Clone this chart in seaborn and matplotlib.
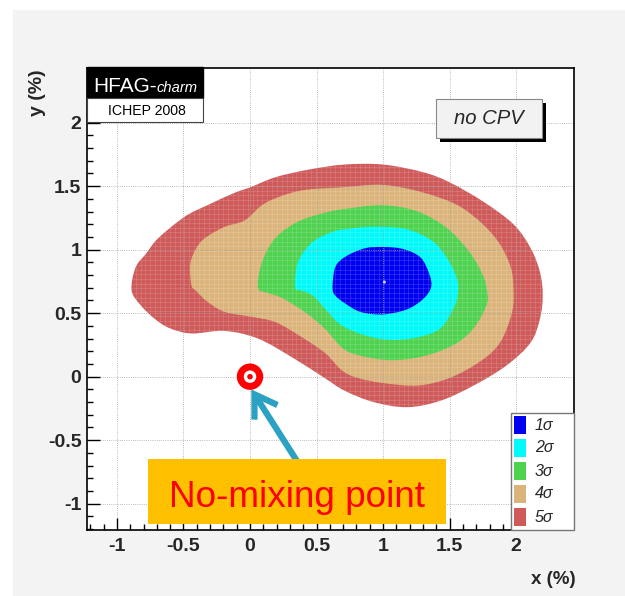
import numpy as np
import pandas as pd
import matplotlib
matplotlib.use("Agg")
import matplotlib.pyplot as plt
from matplotlib.patches import Rectangle, PathPatch, FancyArrowPatch, ArrowStyle
from matplotlib.path import Path
from matplotlib.ticker import MultipleLocator, FuncFormatter
from matplotlib.colors import LinearSegmentedColormap
import seaborn as sns

sns.set_style("white")
plt.rcParams["font.family"] = ["Liberation Sans", "DejaVu Sans"]
plt.rcParams["axes.unicode_minus"] = False

# ---- confidence-region boundaries in the (x, y) plane, values in % ----
sigma5_x = [-0.89, -0.86, -0.78, -0.69, -0.49, -0.32, -0.11, 0.00, 0.19, 0.44, 0.71, 1.00,
            1.30, 1.50, 1.75, 1.98, 2.11, 2.18, 2.20, 2.18, 2.11, 1.93, 1.68, 1.43, 1.18,
            0.93, 0.71, 0.56, 0.32, 0.06, -0.19, -0.44, -0.60, -0.71, -0.82]
sigma5_y = [0.68, 0.86, 0.97, 1.09, 1.26, 1.35, 1.45, 1.49, 1.57, 1.63, 1.67, 1.67,
            1.61, 1.53, 1.38, 1.20, 1.01, 0.82, 0.64, 0.46, 0.27, 0.09, -0.07, -0.19, -0.24,
            -0.20, -0.11, -0.01, 0.15, 0.30, 0.36, 0.34, 0.38, 0.45, 0.56]

sigma4_x = [-0.44, -0.45, -0.41, -0.34, -0.19, -0.04, 0.09, 0.23, 0.41, 0.68, 1.00, 1.30,
            1.56, 1.75, 1.88, 1.96, 1.98, 1.97, 1.88, 1.73, 1.50, 1.26, 1.00, 0.81, 0.69,
            0.56, 0.36, 0.19, 0.02, -0.19, -0.32, -0.41]
sigma4_y = [0.72, 0.88, 1.00, 1.09, 1.18, 1.23, 1.35, 1.42, 1.47, 1.49, 1.51, 1.45,
            1.35, 1.20, 1.04, 0.86, 0.70, 0.51, 0.27, 0.12, -0.01, -0.07, -0.05, -0.01, 0.05,
            0.19, 0.33, 0.43, 0.47, 0.51, 0.59, 0.68]

sigma3_x = [0.06, 0.09, 0.19, 0.36, 0.56, 0.71, 1.00, 1.26, 1.48, 1.65, 1.75, 1.78,
            1.78, 1.68, 1.53, 1.30, 1.05, 0.81, 0.69, 0.56, 0.41, 0.24, 0.13]
sigma3_y = [0.70, 0.90, 1.09, 1.22, 1.29, 1.32, 1.35, 1.30, 1.17, 0.98, 0.80, 0.68,
            0.57, 0.38, 0.25, 0.16, 0.13, 0.17, 0.23, 0.38, 0.51, 0.62, 0.66]

sigma2_x = [0.34, 0.36, 0.47, 0.62, 0.71, 0.93, 1.18, 1.38, 1.50, 1.56, 1.56, 1.53,
            1.43, 1.26, 1.05, 0.85, 0.68, 0.56, 0.47, 0.38]
sigma2_y = [0.70, 0.90, 1.06, 1.14, 1.16, 1.18, 1.16, 1.06, 0.90, 0.75, 0.64, 0.54,
            0.38, 0.31, 0.29, 0.33, 0.41, 0.54, 0.64, 0.68]

sigma1_x = [0.62, 0.64, 0.71, 0.83, 0.93, 1.13, 1.28, 1.35, 1.36, 1.30, 1.18, 1.00,
            0.83, 0.71, 0.64]
sigma1_y = [0.70, 0.86, 0.94, 1.00, 1.02, 1.01, 0.94, 0.80, 0.70, 0.61, 0.53, 0.49,
            0.51, 0.58, 0.64]

best_fit_x = [1.01]
best_fit_y = [0.745]
no_mixing_x = [0.0]
no_mixing_y = [0.0]

sigma_labels = ["1σ", "2σ", "3σ", "4σ", "5σ"]
sigma_colors = ["#0000f0", "#00fafa", "#4fd24f", "#dbb47c", "#cf5a5a"]

tick_values = [-1, -0.5, 0, 0.5, 1, 1.5, 2]

W, H = 625, 596


def fx(px):
    return px / W


def fy(py):
    return 1 - py / H


def smooth_closed_path(xs, ys):
    """Closed Bezier path passing through the boundary vertices (Catmull-Rom handles)."""
    p = np.column_stack([xs, ys])
    n = len(p)
    verts = [p[0]]
    codes = [Path.MOVETO]
    for i in range(n):
        p0, p1, p2, p3 = p[i - 1], p[i], p[(i + 1) % n], p[(i + 2) % n]
        verts += [p1 + (p2 - p0) / 6.0, p2 - (p3 - p1) / 6.0, p2]
        codes += [Path.CURVE4] * 3
    verts.append(p[0])
    codes.append(Path.CLOSEPOLY)
    return Path(np.array(verts), codes)


fig = plt.figure(figsize=(W / 100, H / 100), dpi=100)

# slide-style background: white top band, grey panel, pale teal strip on the left
bg = fig.add_axes([0, 0, 1, 1], zorder=-10)
bg.set_xlim(0, W)
bg.set_ylim(H, 0)
bg.axis("off")
bg.add_patch(Rectangle((0, 0), W, H, color="white"))
bg.add_patch(Rectangle((13, 10), W - 13, H - 10, color="#f3f3f3"))
strip = LinearSegmentedColormap.from_list("strip", ["#fbfdfd", "#d4e9ea"])
bg.imshow(np.linspace(0, 1, 200)[:, None], extent=(0, 13, H, 10), cmap=strip,
          aspect="auto")

ax = fig.add_axes([fx(87), fy(530), fx(574) - fx(87), fy(68) - fy(530)])
ax.set_facecolor("white")
ax.set_xlim(-1.225, 2.435)
ax.set_ylim(-1.207, 2.43)

regions = [
    (sigma5_x, sigma5_y),
    (sigma4_x, sigma4_y),
    (sigma3_x, sigma3_y),
    (sigma2_x, sigma2_y),
    (sigma1_x, sigma1_y),
]
outer = None
for i, (xs, ys) in enumerate(regions):
    patch = PathPatch(smooth_closed_path(xs, ys), facecolor=sigma_colors[4 - i],
                      edgecolor="none", zorder=1 + 0.1 * i)
    ax.add_patch(patch)
    if outer is None:
        outer = patch

# faint histogram-bin mesh inside the filled regions
step = 0.0366
mesh_x = np.arange(-1.225, 2.44, step)
mesh_y = np.arange(-1.207, 2.43, step)
vl = ax.vlines(mesh_x, -1.207, 2.43, colors="white", linewidth=0.5, alpha=0.18, zorder=2)
hl = ax.hlines(mesh_y, -1.225, 2.435, colors="white", linewidth=0.5, alpha=0.18, zorder=2)
vl.set_clip_path(outer)
hl.set_clip_path(outer)

sns.scatterplot(x=best_fit_x, y=best_fit_y, ax=ax, s=5, color="#d0d0d0",
                edgecolor="none", zorder=3)

# grid, ticks and frame
ax.set_axisbelow(False)
ax.set_xticks(tick_values)
ax.set_yticks(tick_values)
ax.xaxis.set_minor_locator(MultipleLocator(0.1))
ax.yaxis.set_minor_locator(MultipleLocator(0.1))
fmt = FuncFormatter(lambda v, p: f"{v:g}")
ax.xaxis.set_major_formatter(fmt)
ax.yaxis.set_major_formatter(fmt)
ax.grid(True, which="major", color="#a5a5a5", linestyle=(0, (1, 1.6)), linewidth=0.6)
ax.tick_params(which="both", direction="in", top=False, right=False, bottom=True,
               left=True, color="black", width=1)
ax.tick_params(which="major", length=9)
ax.tick_params(which="minor", length=4.5)
ax.tick_params(axis="x", pad=6, labelsize=14)
ax.tick_params(axis="y", pad=4, labelsize=14)
for lab in ax.get_xticklabels() + ax.get_yticklabels():
    lab.set_fontweight("bold")
for sp in ax.spines.values():
    sp.set_linewidth(1.2)
    sp.set_color("black")
    sp.set_zorder(10)

fig.text(fx(37), fy(93), "y (%)", rotation=90, ha="center", va="center",
         fontsize=14, fontweight="bold")
fig.text(fx(553), fy(580), "x (%)", ha="center", va="center",
         fontsize=13.5, fontweight="bold")

# HFAG tag
fig.add_artist(Rectangle((fx(87), fy(98)), fx(203) - fx(87), fy(67) - fy(98),
                         transform=fig.transFigure, facecolor="black", edgecolor="black",
                         zorder=20))
fig.add_artist(Rectangle((fx(87), fy(122)), fx(203) - fx(87), fy(98) - fy(122),
                         transform=fig.transFigure, facecolor="white", edgecolor="#444444",
                         linewidth=0.8, zorder=20))
fig.text(fx(93), fy(92), "HFAG-", color="white", fontsize=15, ha="left",
         va="baseline", zorder=21)
fig.text(fx(157), fy(92), "charm", color="white", fontsize=10.6, style="italic",
         ha="left", va="baseline", zorder=21)
fig.text(fx(147), fy(111), "ICHEP 2008", color="black", fontsize=10.2, ha="center",
         va="center", zorder=21)

# "no CPV" label with drop shadow
fig.add_artist(Rectangle((fx(440), fy(142)), fx(542) - fx(436), fy(99) - fy(138),
                         transform=fig.transFigure, facecolor="black", edgecolor="none",
                         zorder=20))
fig.add_artist(Rectangle((fx(436), fy(138)), fx(542) - fx(436), fy(99) - fy(138),
                         transform=fig.transFigure, facecolor="#f2f2f2", edgecolor="#888888",
                         linewidth=0.8, zorder=21))
fig.text(fx(489), fy(119), "no CPV", fontsize=14.6, style="italic", ha="center",
         va="center", zorder=22)

# sigma legend
fig.add_artist(Rectangle((fx(511), fy(530)), fx(574) - fx(511), fy(413) - fy(530),
                         transform=fig.transFigure, facecolor="white", edgecolor="#777777",
                         linewidth=1.0, zorder=20))
for k, (lab, col) in enumerate(zip(sigma_labels, sigma_colors)):
    cy = 425 + 23 * k
    fig.add_artist(Rectangle((fx(514), fy(cy + 9)), fx(526) - fx(514), fy(cy - 9) - fy(cy + 9),
                             transform=fig.transFigure, facecolor=col, edgecolor="none",
                             zorder=21))
    fig.text(fx(535), fy(cy), lab, fontsize=11.5, style="italic", ha="left",
             va="center", zorder=21)

# no-mixing point and its callout
sns.scatterplot(x=no_mixing_x, y=no_mixing_y, ax=ax, s=19 ** 2, color="#ff0000",
                edgecolor="none", zorder=8)
sns.scatterplot(x=no_mixing_x, y=no_mixing_y, ax=ax, s=9 ** 2, color="white",
                edgecolor="none", zorder=9)
sns.scatterplot(x=no_mixing_x, y=no_mixing_y, ax=ax, s=4 ** 2, color="#ff0000",
                edgecolor="none", zorder=9.5)

arrow = FancyArrowPatch(posA=(0.353, -0.664), posB=(0.01, -0.10),
                        arrowstyle=ArrowStyle("->", head_length=0.55, head_width=0.35),
                        mutation_scale=28, linewidth=4.5, color="#2ba2c3",
                        capstyle="butt", joinstyle="miter", shrinkA=0, shrinkB=0,
                        zorder=7)
ax.add_patch(arrow)

fig.add_artist(Rectangle((fx(148), fy(524)), fx(446) - fx(148), fy(459) - fy(524),
                         transform=fig.transFigure, facecolor="#ffc000", edgecolor="none",
                         zorder=15))
fig.text(fx(297), fy(507), "No-mixing point", color="#ff0000", fontsize=26.6,
         ha="center", va="baseline", zorder=16)

fig.savefig("out.png", dpi=100)
